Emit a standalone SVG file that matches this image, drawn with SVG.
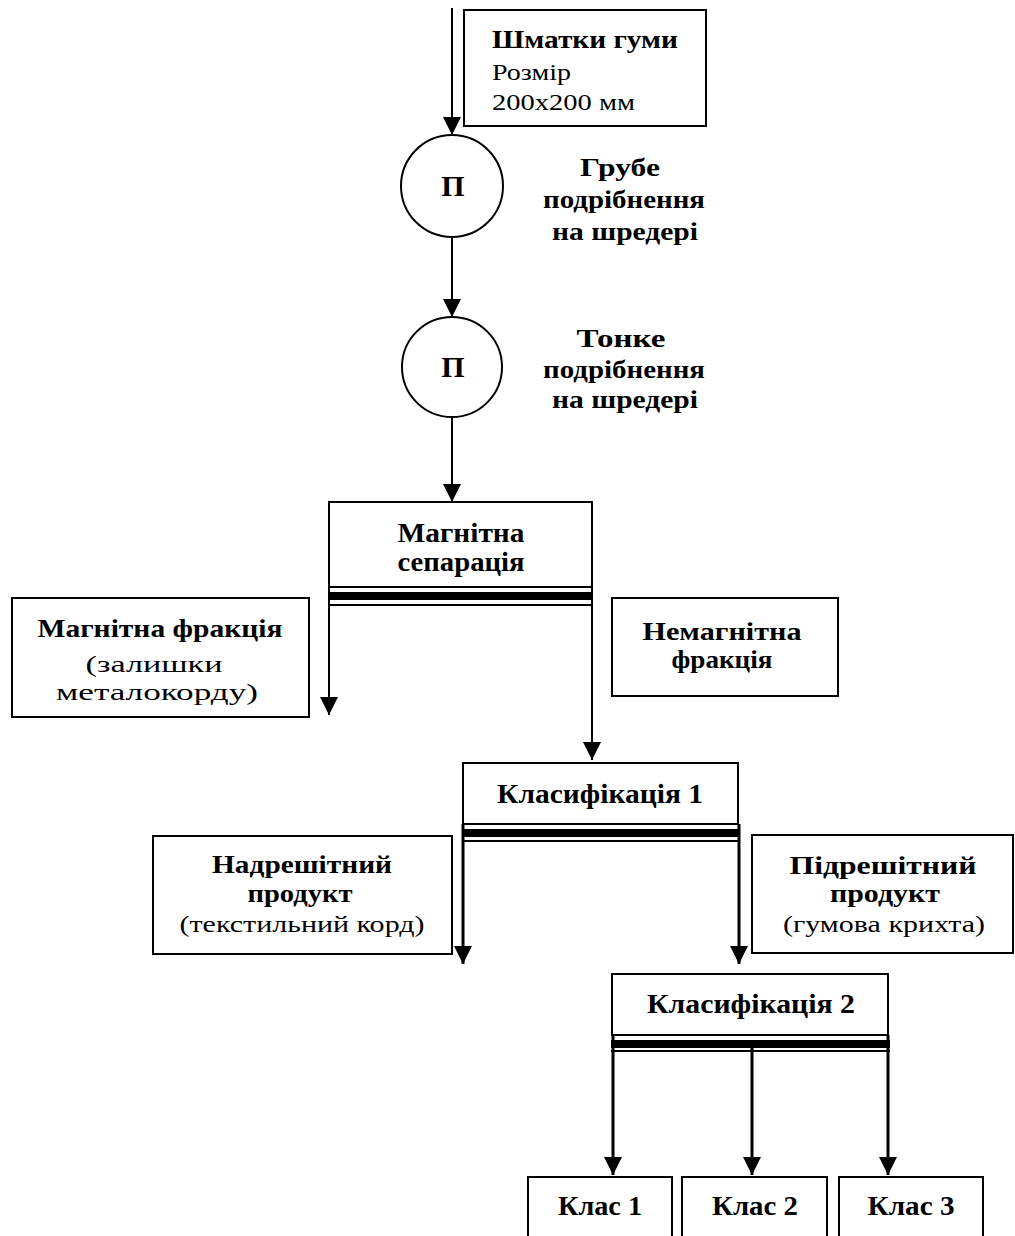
<svg xmlns="http://www.w3.org/2000/svg" width="1015" height="1236" viewBox="0 0 1015 1236">
<defs>
<marker id="ah" viewBox="0 0 18 18" refX="18" refY="9" markerWidth="18" markerHeight="18" markerUnits="userSpaceOnUse" orient="auto">
<path d="M0,0 L18,9 L0,18 z" fill="#000"/>
</marker>
<style>
.box{fill:#fff;stroke:#000;stroke-width:2}
.circ{fill:#fff;stroke:#000;stroke-width:2}
.ln{fill:none;stroke:#000;stroke-width:2}
.arr{fill:none;stroke:#000;stroke-width:2;marker-end:url(#ah)}
.arrb{fill:none;stroke:#000;stroke-width:3;marker-end:url(#ah)}
.bar{fill:#000}
text{font-family:"Liberation Serif","Times New Roman",serif;fill:#000;font-size:24px}
.b{font-weight:bold;font-size:26px}
.m{text-anchor:middle}
.big{font-size:28px}
.pp{font-size:30px}
</style>
</defs>
<rect width="1015" height="1236" fill="#fff"/>

<g id="connectors">
<line class="arr" x1="452" y1="8" x2="452" y2="135"/>
<line class="arr" x1="452" y1="237" x2="452" y2="317"/>
<line class="arr" x1="452" y1="418" x2="452" y2="502"/>
<line class="arr" x1="329" y1="587" x2="329" y2="715"/>
<line class="arr" x1="592" y1="587" x2="592" y2="760"/>
<line class="arrb" x1="463" y1="824" x2="463" y2="964"/>
<line class="arrb" x1="739" y1="824" x2="739" y2="964"/>
<line class="arrb" x1="613" y1="1035" x2="613" y2="1175"/>
<line class="arrb" x1="752" y1="1040" x2="752" y2="1175"/>
<line class="arrb" x1="888" y1="1035" x2="888" y2="1175"/>
</g>

<g id="n-shmatky">
<rect class="box" x="464" y="10" width="242" height="116"/>
<text class="b" x="492" y="48" textLength="186" lengthAdjust="spacingAndGlyphs">Шматки гуми</text>
<text x="492" y="80" textLength="79" lengthAdjust="spacingAndGlyphs">Розмір</text>
<text x="492" y="110" textLength="143" lengthAdjust="spacingAndGlyphs">200x200 мм</text>
</g>

<g id="n-p1">
<circle class="circ" cx="452" cy="186" r="51"/>
<text class="b m pp" x="453" y="196">П</text>
</g>
<g id="n-grube">
<text class="b m" x="620" y="176" textLength="80" lengthAdjust="spacingAndGlyphs">Грубе</text>
<text class="b m" x="624" y="208" textLength="162" lengthAdjust="spacingAndGlyphs">подрібнення</text>
<text class="b m" x="625" y="240" textLength="146" lengthAdjust="spacingAndGlyphs">на шредері</text>
</g>

<g id="n-p2">
<circle class="circ" cx="452" cy="367" r="50"/>
<text class="b m pp" x="453" y="377">П</text>
</g>
<g id="n-tonke">
<text class="b m" x="621" y="347" textLength="89" lengthAdjust="spacingAndGlyphs">Тонке</text>
<text class="b m" x="624" y="378" textLength="162" lengthAdjust="spacingAndGlyphs">подрібнення</text>
<text class="b m" x="625" y="408" textLength="146" lengthAdjust="spacingAndGlyphs">на шредері</text>
</g>

<g id="n-magsep">
<rect class="box" x="329" y="502" width="263" height="85"/>
<rect class="bar" x="328" y="592" width="265" height="8"/>
<line class="ln" x1="328" y1="605" x2="593" y2="605"/>
<text class="b m big" x="461" y="542" textLength="127" lengthAdjust="spacingAndGlyphs">Магнітна</text>
<text class="b m big" x="461" y="571" textLength="127" lengthAdjust="spacingAndGlyphs">сепарація</text>
</g>

<g id="n-magfrac">
<rect class="box" x="12" y="598" width="297" height="119"/>
<text class="b m" x="160" y="637" textLength="245" lengthAdjust="spacingAndGlyphs">Магнітна фракція</text>
<text class="m" x="154" y="672" textLength="137" lengthAdjust="spacingAndGlyphs">(залишки</text>
<text class="m" x="157" y="700" textLength="202" lengthAdjust="spacingAndGlyphs">металокорду)</text>
</g>

<g id="n-nemag">
<rect class="box" x="612" y="598" width="226" height="98"/>
<text class="b m" x="722" y="640" textLength="159" lengthAdjust="spacingAndGlyphs">Немагнітна</text>
<text class="b m" x="722" y="668" textLength="101" lengthAdjust="spacingAndGlyphs">фракція</text>
</g>

<g id="n-klas1">
<rect class="box" x="463" y="763" width="275" height="61"/>
<rect class="bar" x="462" y="829" width="278" height="8"/>
<line class="ln" x1="462" y1="841" x2="740" y2="841"/>
<text class="b m big" x="600" y="803" textLength="206" lengthAdjust="spacingAndGlyphs">Класифікація 1</text>
</g>

<g id="n-nadr">
<rect class="box" x="153" y="836" width="299" height="118"/>
<text class="b m" x="302" y="873" textLength="180" lengthAdjust="spacingAndGlyphs">Надрешітний</text>
<text class="b m" x="300" y="902" textLength="105" lengthAdjust="spacingAndGlyphs">продукт</text>
<text class="m" x="302" y="932" textLength="245" lengthAdjust="spacingAndGlyphs">(текстильний корд)</text>
</g>

<g id="n-pidr">
<rect class="box" x="752" y="835" width="261" height="118"/>
<text class="b m" x="883" y="874" textLength="187" lengthAdjust="spacingAndGlyphs">Підрешітний</text>
<text class="b m" x="885" y="902" textLength="110" lengthAdjust="spacingAndGlyphs">продукт</text>
<text class="m" x="884" y="932" textLength="202" lengthAdjust="spacingAndGlyphs">(гумова крихта)</text>
</g>

<g id="n-klas2">
<rect class="box" x="612" y="974" width="276" height="61"/>
<rect class="bar" x="611" y="1040" width="279" height="8"/>
<line class="ln" x1="611" y1="1051" x2="890" y2="1051"/>
<text class="b m big" x="751" y="1013" textLength="208" lengthAdjust="spacingAndGlyphs">Класифікація 2</text>
</g>

<g id="n-c1">
<rect class="box" x="528" y="1177" width="144" height="70"/>
<text class="b m big" x="600" y="1215" textLength="84" lengthAdjust="spacingAndGlyphs">Клас 1</text>
</g>
<g id="n-c2">
<rect class="box" x="682" y="1177" width="145" height="70"/>
<text class="b m big" x="755" y="1215" textLength="86" lengthAdjust="spacingAndGlyphs">Клас 2</text>
</g>
<g id="n-c3">
<rect class="box" x="839" y="1177" width="144" height="70"/>
<text class="b m big" x="911" y="1215" textLength="87" lengthAdjust="spacingAndGlyphs">Клас 3</text>
</g>
</svg>
